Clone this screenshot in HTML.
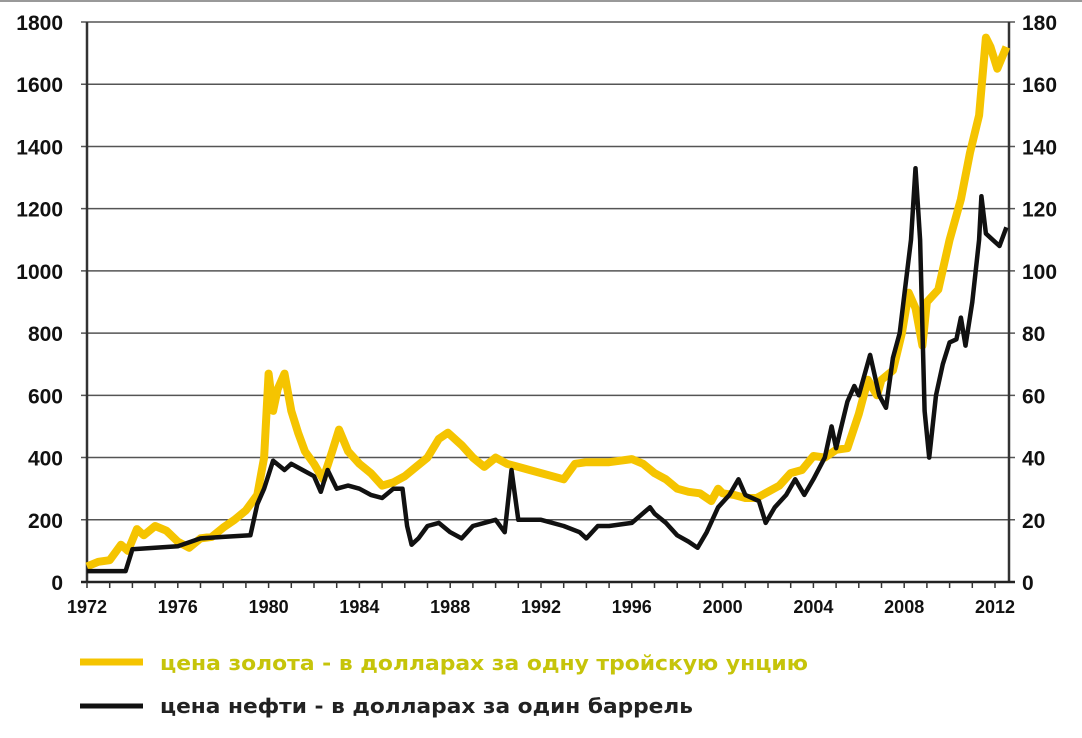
<!DOCTYPE html>
<html><head><meta charset="utf-8"><style>
body{margin:0;background:#fff;width:1082px;height:733px;overflow:hidden;font-family:"Liberation Sans",Arial,sans-serif}
svg text{font-family:"Liberation Sans",Arial,sans-serif;font-weight:bold}
svg text.lg{font-family:"DejaVu Sans","Liberation Sans",sans-serif}
</style></head><body>
<svg width="1082" height="733">
<line x1="0" y1="1" x2="1082" y2="1" stroke="#999" stroke-width="2"/>
<g id="grid"></g>
<g id="axes"></g>
<g id="series"></g>
<g>
<line x1="80" y1="662" x2="143" y2="662" stroke="#f5c400" stroke-width="7"/>
<text class="lg" x="160" y="670" font-size="20" fill="#c6c40a" textLength="648" lengthAdjust="spacingAndGlyphs">цена золота - в долларах за одну тройскую унцию</text>
<line x1="80" y1="706" x2="143" y2="706" stroke="#111" stroke-width="5"/>
<text class="lg" x="160" y="713" font-size="20" fill="#222" textLength="533" lengthAdjust="spacingAndGlyphs">цена нефти - в долларах за один баррель</text>
</g>
</svg>
<script>
const leftTicks=[0,200,400,600,800,1000,1200,1400,1600,1800];
const rightTicks=[0,20,40,60,80,100,120,140,160,180];
const yearLabels=[1972,1976,1980,1984,1988,1992,1996,2000,2004,2008,2012];
const goldYears=[1972,1972.5,1973,1973.5,1973.8,1974.2,1974.5,1975,1975.5,1976,1976.5,1977,1977.5,1978,1978.5,1979,1979.5,1979.8,1980.0,1980.2,1980.4,1980.7,1981,1981.3,1981.6,1982,1982.4,1982.8,1983.1,1983.5,1984,1984.5,1985,1985.5,1986,1986.5,1987,1987.5,1987.9,1988.5,1989,1989.5,1990,1990.5,1991,1991.5,1992,1992.5,1993,1993.5,1994,1995,1996,1996.5,1997,1997.5,1998,1998.5,1999,1999.5,1999.8,2000,2000.5,2001,2001.5,2002,2002.5,2003,2003.5,2004,2004.5,2005,2005.5,2006,2006.4,2006.8,2007,2007.5,2007.9,2008.2,2008.5,2008.8,2009,2009.5,2010,2010.5,2010.9,2011.3,2011.6,2011.8,2012.1,2012.5];
const goldValues=[50,65,70,120,100,170,150,180,165,130,110,140,145,175,200,230,280,400,670,550,620,670,550,480,420,380,330,420,490,420,380,350,310,320,340,370,400,460,480,440,400,370,400,380,370,360,350,340,330,380,385,385,395,380,350,330,300,290,285,260,300,285,280,270,270,290,310,350,360,405,400,425,430,540,650,600,650,680,800,930,880,760,900,940,1100,1230,1380,1500,1750,1720,1650,1720];
const oilYears=[1972,1973.7,1974,1975,1976,1977,1978,1979.2,1979.5,1979.8,1980.2,1980.7,1981,1981.5,1982,1982.3,1982.6,1983,1983.5,1984,1984.5,1985,1985.5,1985.9,1986.1,1986.3,1986.6,1987,1987.5,1988,1988.5,1989,1989.5,1990,1990.4,1990.7,1991,1991.5,1992,1993,1993.7,1994,1994.5,1995,1996,1996.8,1997,1997.5,1998,1998.5,1998.9,1999.3,1999.8,2000.3,2000.7,2001,2001.6,2001.9,2002.3,2002.8,2003.2,2003.6,2004,2004.5,2004.8,2005,2005.5,2005.8,2006,2006.5,2006.9,2007.2,2007.5,2007.8,2008,2008.3,2008.5,2008.7,2008.9,2009.1,2009.4,2009.7,2010,2010.3,2010.5,2010.7,2011,2011.3,2011.4,2011.6,2011.9,2012.2,2012.5];
const oilValues=[3.5,3.5,10.5,11,11.5,14,14.5,15,25,30,39,36,38,36,34,29,36,30,31,30,28,27,30,30,18,12,14,18,19,16,14,18,19,20,16,36,20,20,20,18,16,14,18,18,19,24,22,19,15,13,11,16,24,28,33,28,26,19,24,28,33,28,33,40,50,43,58,63,60,73,60,56,72,80,92,110,133,110,55,40,60,70,77,78,85,76,90,110,124,112,110,108,114];
const NS='http://www.w3.org/2000/svg';
const X0=87,X1=1009,Y0=582,Y1=22;
const xs=y=>X0+(y-1972)*22.7;
const yl=v=>Y0-(v/1800)*(Y0-Y1);
const yr=v=>Y0-(v/180)*(Y0-Y1);
function mk(t,a,p){const e=document.createElementNS(NS,t);for(const k in a)e.setAttribute(k,a[k]);p.appendChild(e);return e;}
const grid=document.getElementById('grid'),axes=document.getElementById('axes'),ser=document.getElementById('series');
leftTicks.forEach((v,i)=>{
 const l=mk('line',{x1:X0-6,x2:X1+6,y1:yl(v),y2:yl(v),stroke:'#555','stroke-width':1.5},grid);
 
 
 const t=mk('text',{x:63,y:yl(v)+8,'font-size':21,'text-anchor':'end',fill:'#111'},axes);t.textContent=v;
 
 
 const r=mk('text',{x:1022,y:yr(rightTicks[i])+8,'font-size':21,fill:'#111'},axes);r.textContent=rightTicks[i];
 
 
});
let a=mk('line',{x1:X0,x2:X0,y1:Y1,y2:Y0,stroke:'#333','stroke-width':2.5},axes);


a=mk('line',{x1:X1,x2:X1,y1:Y1,y2:Y0,stroke:'#333','stroke-width':2.5},axes);


a=mk('line',{x1:X0-6,x2:X1+6,y1:Y0,y2:Y0,stroke:'#222','stroke-width':2.5},axes);


for(let y=1972;y<=2012;y++){const t=mk('line',{x1:xs(y),x2:xs(y),y1:Y0,y2:Y0+6,stroke:'#333','stroke-width':1.5},axes);
 
 }
yearLabels.forEach(y=>{const t=mk('text',{x:xs(y),y:613,'font-size':18,'text-anchor':'middle',fill:'#111'},axes);t.textContent=y;
 
 });
const gp=goldYears.map((y,i)=>xs(y).toFixed(1)+','+yl(goldValues[i]).toFixed(1)).join(' ');
const g=mk('polyline',{points:gp,fill:'none',stroke:'#f5c400','stroke-width':8,'stroke-linejoin':'round'},ser);


const op=oilYears.map((y,i)=>xs(y).toFixed(1)+','+yr(oilValues[i]).toFixed(1)).join(' ');
const o=mk('polyline',{points:op,fill:'none',stroke:'#111','stroke-width':4.5,'stroke-linejoin':'round'},ser);


</script>
</body></html>
